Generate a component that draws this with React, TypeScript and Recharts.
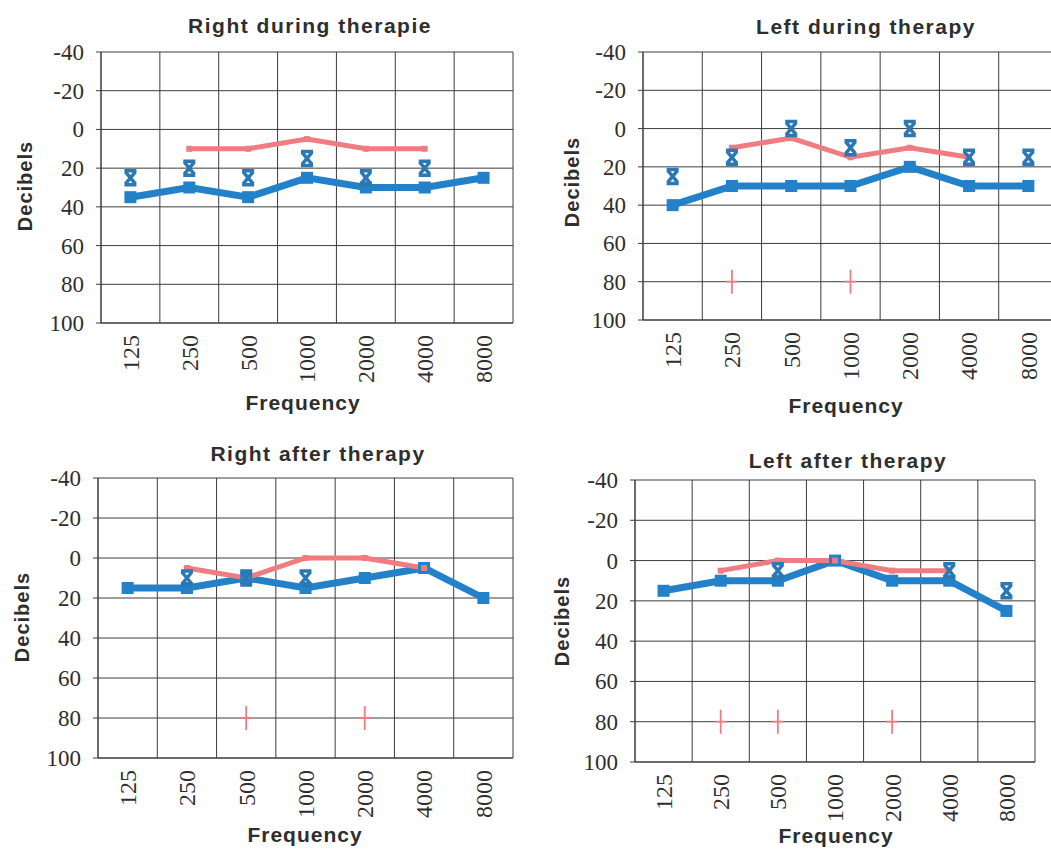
import React from 'react';
import { LineChart, Line, XAxis, YAxis, CartesianGrid } from 'recharts';

// audiogram categories
const freqs = ['125', '250', '500', '1000', '2000', '4000', '8000'];
const dbTicks = [-40, -20, 0, 20, 40, 60, 80, 100];

// Right during therapie
const rdAir = [35, 30, 35, 25, 30, 30, 25];
const rdBone = [25, 20, 25, 15, 25, 20, null];
const rdPink = [null, 10, 10, 5, 10, 10, null];
const rdPlus = [null, null, null, null, null, null, null];

// Left during therapy
const ldAir = [40, 30, 30, 30, 20, 30, 30];
const ldBone = [25, 15, 0, 10, 0, 15, 15];
const ldPink = [null, 10, 5, 15, 10, 15, null];
const ldPlus = [null, 80, null, 80, null, null, null];

// Right after therapy
const raAir = [15, 15, 10, 15, 10, 5, 20];
const raBone = [null, 10, 10, 10, null, null, null];
const raPink = [null, 5, 10, 0, 0, 5, null];
const raPlus = [null, null, 80, null, 80, null, null];

// Left after therapy
const laAir = [15, 10, 10, 0, 10, 10, 25];
const laBone = [null, null, 5, null, null, 5, 15];
const laPink = [null, 5, 0, 0, 5, 5, null];
const laPlus = [null, 80, 80, null, 80, null, null];

const BLUE = '#2381c9';
const PINK = '#ef7c80';
const GRID = '#3c3c3c';
const TEXT = '#2e2e2e';
const SERIF = "'Liberation Serif', 'Times New Roman', serif";

const FreqTick = (props: any) => {
  const { x, y, payload } = props;
  return (
    <text
      x={x}
      y={y}
      transform={`rotate(-90, ${x}, ${y})`}
      textAnchor="end"
      dy="0.35em"
      fill={TEXT}
      fontSize={24}
      fontFamily={SERIF}
    >
      {payload.value}
    </text>
  );
};

const DbTick = (props: any) => {
  const { x, y, payload } = props;
  return (
    <text x={x} y={y} textAnchor="end" dy="0.35em" fill={TEXT} fontSize={23} fontFamily={SERIF}>
      {payload.value}
    </text>
  );
};

const SquareDot = (props: any) => {
  const { cx, cy, value } = props;
  if (cx == null || cy == null || value == null) return <g key={props.index} />;
  return <rect key={props.index} x={cx - 6} y={cy - 6} width={12} height={12} fill={BLUE} />;
};

const SmallDot = (props: any) => {
  const { cx, cy, value } = props;
  if (cx == null || cy == null || value == null) return <g key={props.index} />;
  return <rect key={props.index} x={cx - 3} y={cy - 3} width={6} height={6} fill={PINK} />;
};

// bone conduction mark: an x with bars on top and bottom
const CrossDot = (props: any) => {
  const { cx, cy, value } = props;
  if (cx == null || cy == null || value == null) return <g key={props.index} />;
  const d = `M${cx - 6},${cy - 7}H${cx + 6}M${cx - 6},${cy + 7}H${cx + 6}M${cx - 5},${cy - 6}L${cx + 5},${cy + 6}M${cx + 5},${cy - 6}L${cx - 5},${cy + 6}`;
  return <path key={props.index} d={d} stroke="#2a78b4" strokeWidth={3.5} fill="none" />;
};

const PlusDot = (props: any) => {
  const { cx, cy, value } = props;
  if (cx == null || cy == null || value == null) return <g key={props.index} />;
  const d = `M${cx},${cy - 12}V${cy + 12}M${cx - 6},${cy}H${cx + 6}`;
  return <path key={props.index} d={d} stroke={PINK} strokeWidth={1.8} fill="none" />;
};

type Pt = [number, number];

interface PanelProps {
  title: string;
  air: (number | null)[];
  bone: (number | null)[];
  pink: (number | null)[];
  plus: (number | null)[];
  box: Pt;
  plot: { l: number; r: number; t: number; b: number };
  titleAt: Pt;
  dbAt: Pt;
  freqAt: Pt;
}

const Panel: React.FC<PanelProps> = ({ title, air, bone, pink, plus, box, plot, titleAt, dbAt, freqAt }) => {
  const rows = freqs.map((f, i) => ({ freq: f, air: air[i], bone: bone[i], pink: pink[i], plus: plus[i] }));
  const w = plot.r - box[0] + 12;
  const h = plot.b - box[1] + 100;
  const half = (plot.r - plot.l) / 14;
  const label: React.CSSProperties = {
    position: 'absolute',
    whiteSpace: 'nowrap',
    fontFamily: "'Liberation Sans', Arial, sans-serif",
    fontWeight: 700,
    color: TEXT,
    lineHeight: 1,
  };
  return (
    <>
      <div style={{ position: 'absolute', left: box[0], top: box[1] }}>
        <LineChart
          width={w}
          height={h}
          data={rows}
          margin={{ top: plot.t - box[1], right: 12, bottom: 10, left: 0 }}
        >
          <CartesianGrid
            stroke={GRID}
            strokeWidth={1}
            verticalCoordinatesGenerator={({ offset }: any) =>
              Array.from({ length: freqs.length + 1 }, (_, i) => offset.left + (i * offset.width) / freqs.length)
            }
          />
          <XAxis
            dataKey="freq"
            height={90}
            interval={0}
            padding={{ left: half, right: half }}
            tick={<FreqTick />}
            tickLine={false}
            tickSize={0}
            tickMargin={12}
            axisLine={{ stroke: GRID }}
          />
          <YAxis
            width={plot.l - box[0]}
            reversed
            domain={[-40, 100]}
            ticks={dbTicks}
            interval={0}
            tickSize={5}
            tickMargin={12}
            tickLine={{ stroke: GRID }}
            axisLine={{ stroke: GRID }}
            tick={<DbTick />}
          />
          <Line dataKey="air" stroke={BLUE} strokeWidth={7} dot={SquareDot} isAnimationActive={false} />
          <Line dataKey="pink" stroke={PINK} strokeWidth={5} dot={SmallDot} isAnimationActive={false} />
          <Line dataKey="bone" stroke="none" dot={CrossDot} isAnimationActive={false} />
          <Line dataKey="plus" stroke="none" dot={PlusDot} isAnimationActive={false} />
        </LineChart>
      </div>
      <div style={{ ...label, left: titleAt[0], top: titleAt[1], fontSize: 21, letterSpacing: 1.5, transform: 'translate(-50%, -50%)' }}>
        {title}
      </div>
      <div style={{ ...label, left: dbAt[0], top: dbAt[1], fontSize: 20, letterSpacing: 1, transform: 'translate(-50%, -50%) rotate(-90deg)' }}>
        Decibels
      </div>
      <div style={{ ...label, left: freqAt[0], top: freqAt[1], fontSize: 21, letterSpacing: 1, transform: 'translate(-50%, -50%)' }}>
        Frequency
      </div>
    </>
  );
};

const App: React.FC = () => {
  return (
    <div style={{ position: 'fixed', left: 0, top: 0, width: 1051, height: 850, overflow: 'hidden', background: '#fff' }}>
      <Panel
        title="Right during therapie"
        air={rdAir}
        bone={rdBone}
        pink={rdPink}
        plus={rdPlus}
        box={[0, 0]}
        plot={{ l: 101, r: 513, t: 52, b: 323 }}
        titleAt={[310, 25]}
        dbAt={[25, 186]}
        freqAt={[303, 402]}
      />
      <Panel
        title="Left during therapy"
        air={ldAir}
        bone={ldBone}
        pink={ldPink}
        plus={ldPlus}
        box={[525, 0]}
        plot={{ l: 643, r: 1058, t: 52, b: 320 }}
        titleAt={[866, 26]}
        dbAt={[572, 182]}
        freqAt={[846, 405]}
      />
      <Panel
        title="Right after therapy"
        air={raAir}
        bone={raBone}
        pink={raPink}
        plus={raPlus}
        box={[0, 420]}
        plot={{ l: 98, r: 513, t: 478, b: 758 }}
        titleAt={[318, 453]}
        dbAt={[22, 617]}
        freqAt={[305, 834]}
      />
      <Panel
        title="Left after therapy"
        air={laAir}
        bone={laBone}
        pink={laPink}
        plus={laPlus}
        box={[525, 420]}
        plot={{ l: 635, r: 1035, t: 480, b: 762 }}
        titleAt={[848, 460]}
        dbAt={[562, 621]}
        freqAt={[836, 835]}
      />
    </div>
  );
};

export default App;
